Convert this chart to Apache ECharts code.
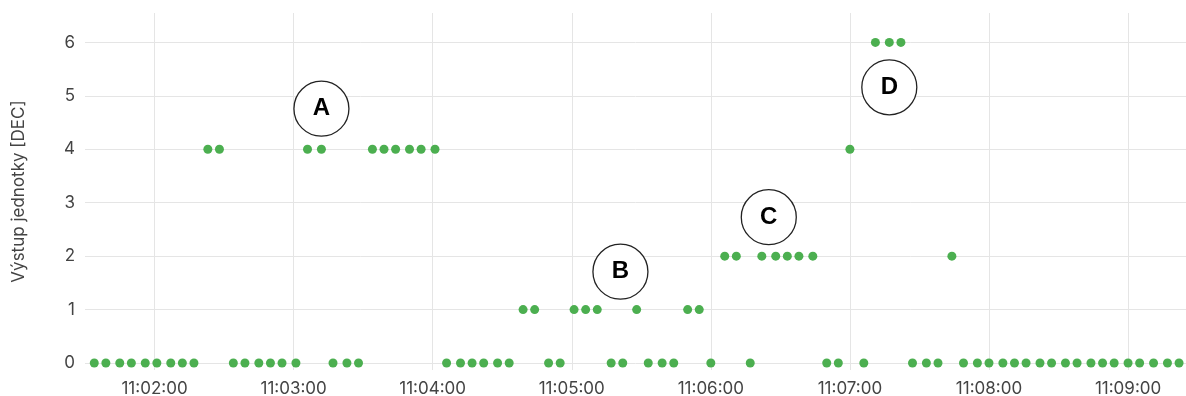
<!DOCTYPE html>
<html>
<head>
<meta charset="utf-8">
<script src="https://cdn.jsdelivr.net/npm/echarts@6/dist/echarts.min.js"></script>
<style>
    html, body { margin: 0; padding: 0; background: #fff; }
    #main { width: 1186px; height: 396px; }
</style>
</head>
<body>
<div id="main"></div>
<script>
    // data
    var day = '2024-01-01';
    var times = [
        '11:01:34','11:01:39','11:01:45','11:01:50','11:01:56','11:02:01','11:02:07','11:02:12','11:02:17',
        '11:02:23','11:02:28',
        '11:02:34','11:02:39','11:02:45','11:02:50','11:02:55','11:03:01',
        '11:03:06','11:03:12',
        '11:03:17','11:03:23','11:03:28',
        '11:03:34','11:03:39','11:03:44','11:03:50','11:03:55','11:04:01',
        '11:04:06','11:04:12','11:04:17','11:04:22','11:04:28','11:04:33',
        '11:04:39','11:04:44',
        '11:04:50','11:04:55',
        '11:05:01','11:05:06','11:05:11',
        '11:05:17','11:05:22',
        '11:05:28',
        '11:05:33','11:05:39','11:05:44',
        '11:05:50','11:05:55',
        '11:06:00',
        '11:06:06','11:06:11',
        '11:06:17',
        '11:06:22','11:06:28','11:06:33','11:06:38','11:06:44',
        '11:06:50','11:06:55',
        '11:07:00',
        '11:07:06',
        '11:07:11','11:07:17','11:07:22',
        '11:07:27','11:07:33','11:07:38',
        '11:07:44',
        '11:07:49','11:07:55','11:08:00','11:08:06','11:08:11','11:08:16','11:08:22','11:08:27','11:08:33',
        '11:08:38','11:08:44','11:08:49','11:08:54','11:09:00','11:09:05','11:09:11','11:09:17','11:09:22'
    ];
    var values = [
        0,0,0,0,0,0,0,0,0,
        4,4,
        0,0,0,0,0,0,
        4,4,
        0,0,0,
        4,4,4,4,4,4,
        0,0,0,0,0,0,
        1,1,
        0,0,
        1,1,1,
        0,0,
        1,
        0,0,0,
        1,1,
        0,
        2,2,
        0,
        2,2,2,2,2,
        0,0,
        4,
        0,
        6,6,6,
        0,0,0,
        2,
        0,0,0,0,0,0,0,0,0,
        0,0,0,0,0,0,0,0,0
    ];
    var xTicks = ['11:02:00','11:03:00','11:04:00','11:05:00','11:06:00','11:07:00','11:08:00','11:09:00'];
    var yTicks = [0, 1, 2, 3, 4, 5, 6];
    var annLabels = ['A', 'B', 'C', 'D'];
    var annTimes = ['11:03:12', '11:05:21', '11:06:25', '11:07:17'];
    var annValues = [4.76, 1.71, 2.73, 5.16];

    function ts(t) {
        return new Date(day + 'T' + t).getTime();
    }

    var myChart = echarts.init(document.getElementById('main'));

    var option = {
        animation: false,
        grid: { left: 85, right: 0, top: 13, bottom: 26, outerBoundsMode: 'none' },
        xAxis: {
            type: 'time',
            min: ts('11:01:30'),
            max: ts('11:09:25'),
            axisLine: { show: false },
            axisTick: { show: false, customValues: xTicks.map(ts) },
            splitLine: { show: true, lineStyle: { color: '#e5e5e5', width: 1 } },
            axisLabel: {
                customValues: xTicks.map(ts),
                formatter: '{HH}:{mm}:{ss}',
                color: '#444',
                fontFamily: 'Inter',
                fontSize: 17,
                margin: 10
            }
        },
        yAxis: {
            type: 'value',
            min: -0.13,
            max: 6.55,
            name: 'Výstup jednotky [DEC]',
            nameLocation: 'middle',
            nameGap: 58,
            nameTextStyle: { color: '#444', fontFamily: 'Inter', fontSize: 17 },
            axisLine: { show: false },
            axisTick: { show: false, customValues: yTicks },
            splitLine: { show: true, lineStyle: { color: '#e5e5e5', width: 1 } },
            axisLabel: {
                customValues: yTicks,
                color: '#444',
                fontFamily: 'Inter',
                fontSize: 17,
                margin: 10
            }
        },
        series: [
            {
                type: 'scatter',
                symbolSize: 9,
                itemStyle: { color: '#4caf50', opacity: 1 },
                data: times.map(function (t, i) { return [ts(t), values[i]]; }),
                markPoint: {
                    symbol: 'circle',
                    symbolSize: 55,
                    itemStyle: { color: '#fff', borderColor: '#222', borderWidth: 1.3, opacity: 1 },
                    label: {
                        show: true,
                        formatter: '{b}',
                        color: '#000',
                        fontFamily: 'Liberation Sans',
                        fontWeight: 'bold',
                        fontSize: 24
                    },
                    data: annLabels.map(function (l, i) {
                        return { name: l, coord: [ts(annTimes[i]), annValues[i]] };
                    })
                }
            }
        ]
    };

    myChart.setOption(option);
</script>
</body>
</html>
